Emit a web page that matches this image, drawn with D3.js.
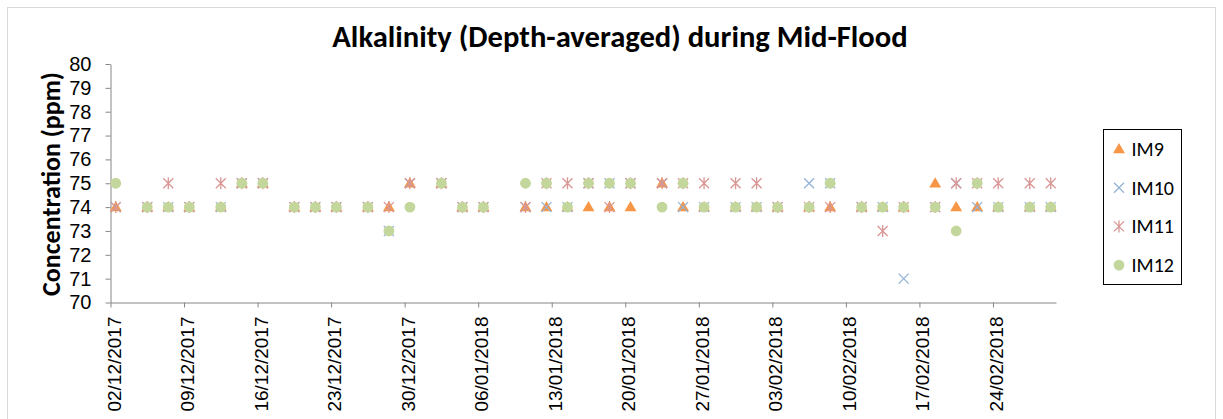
<!DOCTYPE html>
<html>
<head>
<meta charset="utf-8">
<script src="https://cdn.jsdelivr.net/npm/d3@7"></script>
<style>
  html, body { margin: 0; padding: 0; background: #fff; }
  svg { display: block; font-family: "Carlito", "Calibri", "Liberation Sans", sans-serif; }
</style>
</head>
<body>
<svg id="chart" width="1223" height="419"></svg>
<script>
// Sampling dates (dd/mm/yyyy)
const sampleDates = [
  "02/12/2017","05/12/2017","07/12/2017","09/12/2017","12/12/2017","14/12/2017","16/12/2017",
  "19/12/2017","21/12/2017","23/12/2017","26/12/2017","28/12/2017","30/12/2017","02/01/2018",
  "04/01/2018","06/01/2018","10/01/2018","12/01/2018","14/01/2018","16/01/2018","18/01/2018",
  "20/01/2018","23/01/2018","25/01/2018","27/01/2018","30/01/2018","01/02/2018","03/02/2018",
  "06/02/2018","08/02/2018","11/02/2018","13/02/2018","15/02/2018","18/02/2018","20/02/2018",
  "22/02/2018","24/02/2018","27/02/2018","01/03/2018"
];

// Depth-averaged alkalinity (ppm) per station
const im9  = [74,74,74,74,74,75,75,74,74,74,74,74,75,75,74,74,74,74,74,74,74,74,75,74,74,74,74,74,74,74,74,74,74,75,74,74,74,74,74];
const im10 = [74,74,74,74,74,75,75,74,74,74,74,73,75,75,74,74,74,74,74,75,75,75,75,74,74,74,74,74,75,75,74,74,71,74,75,74,74,74,74];
const im11 = [74,74,75,74,75,75,75,74,74,74,74,74,75,75,74,74,74,75,75,75,74,75,75,75,75,75,75,74,74,74,74,73,74,74,75,75,75,75,75];
const im12 = [75,74,74,74,74,75,75,74,74,74,74,73,74,75,74,74,75,75,74,75,75,75,74,75,74,74,74,74,74,75,74,74,74,74,73,75,74,74,74];

const seriesNames = ["IM9", "IM10", "IM11", "IM12"];
const yTicks = [70,71,72,73,74,75,76,77,78,79,80];
const xTickLabels = ["02/12/2017","09/12/2017","16/12/2017","23/12/2017","30/12/2017","06/01/2018",
                     "13/01/2018","20/01/2018","27/01/2018","03/02/2018","10/02/2018","17/02/2018","24/02/2018"];
const xDomainLabels = ["02/12/2017", "02/03/2018"];

const parse = d3.timeParse("%d/%m/%Y");
const fmt = d3.timeFormat("%d/%m/%Y");

const svg = d3.select("#chart");
const W = 1223, H = 419;

// outer chart frame
svg.append("rect")
  .attr("x", 7.5).attr("y", 7.5)
  .attr("width", 1208).attr("height", H)
  .attr("fill", "#fff").attr("stroke", "#d9d9d9").attr("stroke-width", 1);

const plot = { left: 110.5, right: 1056, top: 64, bottom: 302.5 };

const x = d3.scaleTime()
  .domain(xDomainLabels.map(parse))
  .range([plot.left, plot.right]);

const y = d3.scaleLinear()
  .domain([70, 80])
  .range([plot.bottom, plot.top]);

// points sit in the middle of their day
const halfDay = 12 * 3600 * 1000;
const px = s => x(new Date(parse(s).getTime() + halfDay));

// title
svg.append("text")
  .attr("x", 620).attr("y", 47)
  .attr("text-anchor", "middle")
  .style("font-size", "30.6px").style("font-weight", "bold").attr("fill", "#000")
  .text("Alkalinity (Depth-averaged) during Mid-Flood");

// y axis title
svg.append("text")
  .attr("transform", "translate(60,184) rotate(-90)")
  .attr("text-anchor", "middle")
  .style("font-size", "26px").style("font-weight", "bold").attr("fill", "#000")
  .text("Concentration (ppm)");

// y axis
const yAxis = svg.append("g")
  .attr("transform", `translate(${plot.left},0)`)
  .call(d3.axisLeft(y).tickValues(yTicks).tickFormat(d3.format("d")).tickSize(5).tickSizeOuter(0).tickPadding(14));
yAxis.select(".domain").attr("stroke", "#868686");
yAxis.selectAll(".tick line").attr("stroke", "#868686");
yAxis.selectAll(".tick text").style("font-size", "20px").attr("fill", "#000").attr("font-family", null);

// x axis
const xAxis = svg.append("g")
  .attr("transform", `translate(0,${plot.bottom})`)
  .call(d3.axisBottom(x).tickValues(xTickLabels.map(parse)).tickFormat(fmt).tickSize(5).tickSizeOuter(0));
xAxis.select(".domain").attr("stroke", "#868686");
xAxis.selectAll(".tick line").attr("stroke", "#868686");
xAxis.selectAll(".tick text")
  .style("font-size", "19px").attr("fill", "#000").attr("font-family", null)
  .attr("text-anchor", "end")
  .attr("x", -14).attr("y", 0).attr("dy", "0.5em")
  .attr("transform", "rotate(-90)");

// marker drawing helpers
const colors = { IM9: "#F79646", IM10: "#95B3D7", IM11: "#D99694", IM12: "#C3D69B" };
const triPath = d3.symbol().type(d3.symbolTriangle).size(62)();

function drawMarker(g, name) {
  if (name === "IM9") {
    g.append("path").attr("d", triPath).attr("transform", "translate(0,0.8)").attr("fill", colors.IM9);
  } else if (name === "IM10") {
    g.append("path").attr("d", "M-5,-5L5,5M-5,5L5,-5")
      .attr("stroke", colors.IM10).attr("stroke-width", 1.3).attr("fill", "none");
  } else if (name === "IM11") {
    g.append("path").attr("d", "M-5,-5L5,5M-5,5L5,-5M0,-6L0,6")
      .attr("stroke", colors.IM11).attr("stroke-width", 1.3).attr("fill", "none");
  } else {
    g.append("circle").attr("r", 5.4).attr("fill", colors.IM12);
  }
}

const seriesValues = { IM9: im9, IM10: im10, IM11: im11, IM12: im12 };

seriesNames.forEach(name => {
  const vals = seriesValues[name];
  const g = svg.append("g").attr("class", "series-" + name);
  g.selectAll("g.pt")
    .data(sampleDates.map((d, i) => ({ d, v: vals[i] })).filter(p => p.v != null))
    .join("g")
    .attr("class", "pt")
    .attr("transform", p => `translate(${px(p.d)},${y(p.v)})`)
    .each(function () { drawMarker(d3.select(this), name); });
});

// legend
const legend = svg.append("g");
legend.append("rect")
  .attr("x", 1103.5).attr("y", 129.5).attr("width", 78).attr("height", 155)
  .attr("fill", "#fff").attr("stroke", "#000").attr("stroke-width", 1);
seriesNames.forEach((name, i) => {
  const ly = 149 + i * 38.7;
  const lg = legend.append("g").attr("transform", `translate(1119,${ly})`);
  drawMarker(lg, name);
  legend.append("text")
    .attr("x", 1131.5).attr("y", ly).attr("dy", "0.35em")
    .style("font-size", "20px").attr("fill", "#000")
    .text(name);
});
</script>
</body>
</html>
